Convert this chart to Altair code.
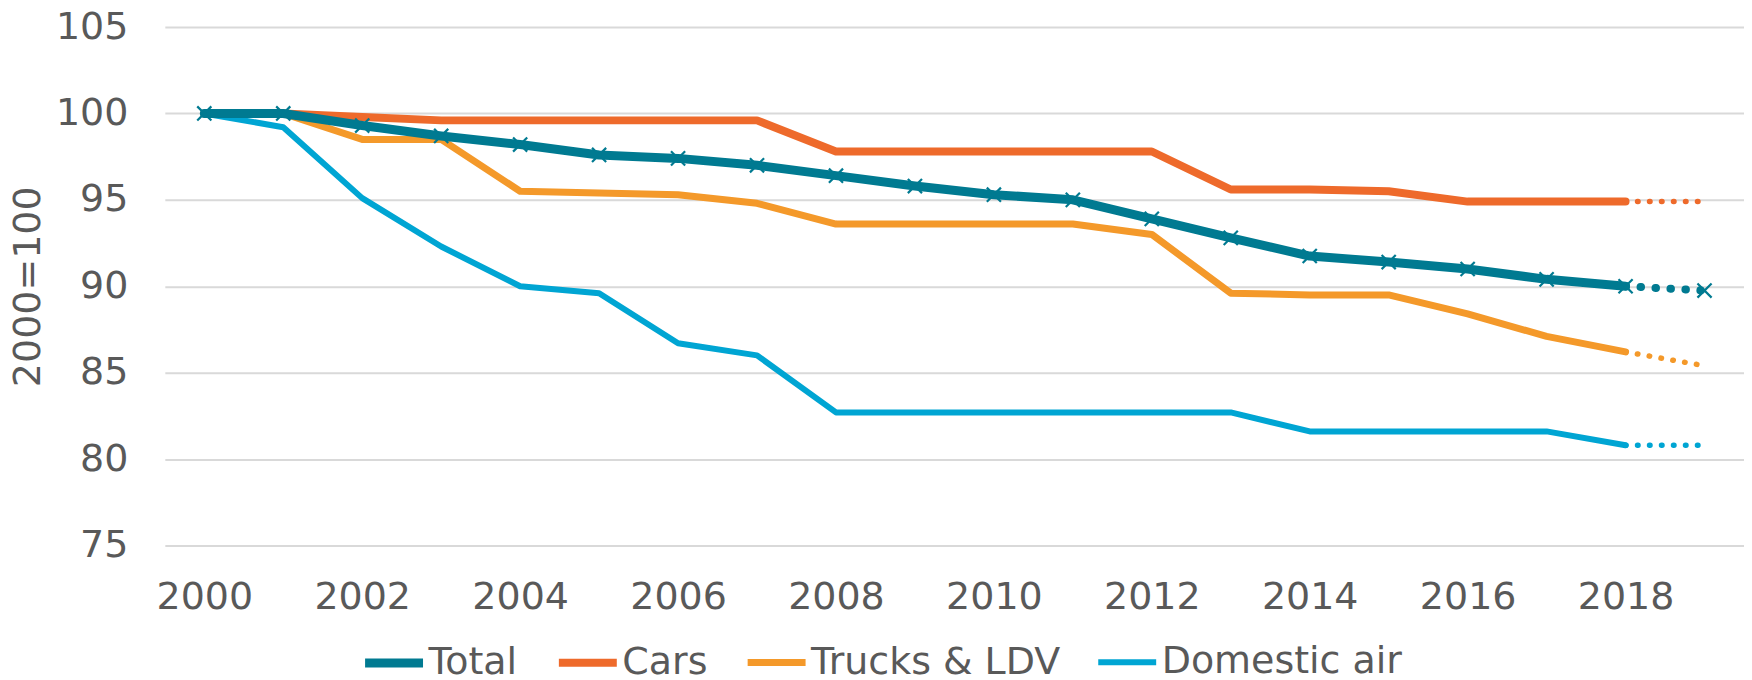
import altair as alt
import pandas as pd

years = list(range(2000, 2020))
series_names = ["Total", "Cars", "Trucks & LDV", "Domestic air"]
total = [100, 100, 99.3, 98.7, 98.2, 97.6, 97.4, 97.0, 96.4, 95.8, 95.3, 95.0,
         93.9, 92.8, 91.75, 91.4, 91.0, 90.4, 90.0, 89.75]
cars = [100, 100, 99.8, 99.6, 99.6, 99.6, 99.6, 99.6, 97.8, 97.8, 97.8, 97.8,
        97.8, 95.6, 95.6, 95.5, 94.9, 94.9, 94.9, 94.9]
trucks = [100, 100, 98.5, 98.5, 95.5, 95.4, 95.3, 94.8, 93.6, 93.6, 93.6, 93.6,
          93.0, 89.6, 89.5, 89.5, 88.4, 87.1, 86.2, 85.4]
air = [100, 99.2, 95.1, 92.3, 90.0, 89.6, 86.7, 86.0, 82.7, 82.7, 82.7, 82.7,
       82.7, 82.7, 81.6, 81.6, 81.6, 81.6, 80.8, 80.8]
last_actual_year = 2018
x_ticks = list(range(2000, 2019, 2))
y_ticks = [75, 80, 85, 90, 95, 100, 105]
colors = ["#007A91", "#EE6A2B", "#F4992A", "#00A5D3"]

rows = []
for name, vals, order in [("Domestic air", air, 0), ("Trucks & LDV", trucks, 1),
                          ("Cars", cars, 2), ("Total", total, 3)]:
    for y, v in zip(years, vals):
        rows.append({"year": y, "value": v, "series": name, "ord": order})
df = pd.DataFrame(rows)

FONT = "DejaVu Sans"
GRAY = "#595959"
FS = 38

x_enc = alt.X("year:Q", scale=alt.Scale(domain=[1999.5, 2019.5], nice=False, zero=False),
              axis=alt.Axis(values=x_ticks, format="d", title=None, grid=False, domain=False,
                            ticks=False, labelPadding=33, labelFontSize=FS, labelFont=FONT,
                            labelColor=GRAY, labelFlush=False))
y_enc = alt.Y("value:Q", scale=alt.Scale(domain=[75, 105], nice=False, zero=False),
              axis=alt.Axis(values=y_ticks, title="2000=100", domain=False, ticks=False,
                            labelPadding=37, labelFontSize=FS, labelFont=FONT, labelColor=GRAY,
                            titleFontSize=FS, titleFont=FONT, titleColor=GRAY,
                            titleFontWeight="normal", titlePadding=8,
                            gridColor="#D9D9D9", gridWidth=2))

color_enc = alt.Color("series:N", scale=alt.Scale(domain=series_names, range=colors),
                      sort=series_names,
                      legend=alt.Legend(title=None, orient="none", direction="horizontal",
                                        legendX=196, legendY=603, columns=4,
                                        symbolType="stroke", symbolSize=3364,
                                        symbolStrokeWidth=7, labelFontSize=FS,
                                        labelFont=FONT, labelColor=GRAY, labelOffset=1,
                                        labelLimit=0, columnPadding=25))
sw_enc = alt.StrokeWidth("series:N", scale=alt.Scale(domain=series_names, range=[9, 6, 6, 6]),
                         legend=None)

base = alt.Chart(df)

solid = base.transform_filter(alt.datum.year <= last_actual_year).mark_line(
    strokeCap="round", strokeJoin="round").encode(
    x=x_enc, y=y_enc, color=color_enc, strokeWidth=sw_enc, order="ord:Q",
    detail="series:N")

dotted_total = base.transform_filter(
    (alt.datum.year >= last_actual_year) & (alt.datum.series == "Total")).mark_line(
    strokeCap="round", strokeDash=[0.5, 14.5], strokeWidth=8, color=colors[0]).encode(
    x=x_enc, y=y_enc)

dotted_other = base.transform_filter(
    (alt.datum.year >= last_actual_year) & (alt.datum.series != "Total")).mark_line(
    strokeCap="round", strokeDash=[0.5, 11.5], strokeWidth=5.5).encode(
    x=x_enc, y=y_enc, detail="series:N",
    stroke=alt.Stroke("series:N", scale=alt.Scale(domain=series_names, range=colors), legend=None))

points = base.transform_filter(alt.datum.series == "Total").mark_point(
    shape="M-1,-1L1,1M-1,1L1,-1", filled=False, strokeWidth=2.2, size=200, opacity=1,
    color=colors[0]).encode(x=x_enc, y=y_enc)

chart = alt.layer(solid, dotted_other, dotted_total, points).properties(
    width=1581, height=519, autosize="none",
    padding={"left": 157, "top": 18.7, "right": 0, "bottom": 134},
).configure_view(stroke=None)

chart.save("out.html", embed_options={"renderer": "svg", "actions": False})
